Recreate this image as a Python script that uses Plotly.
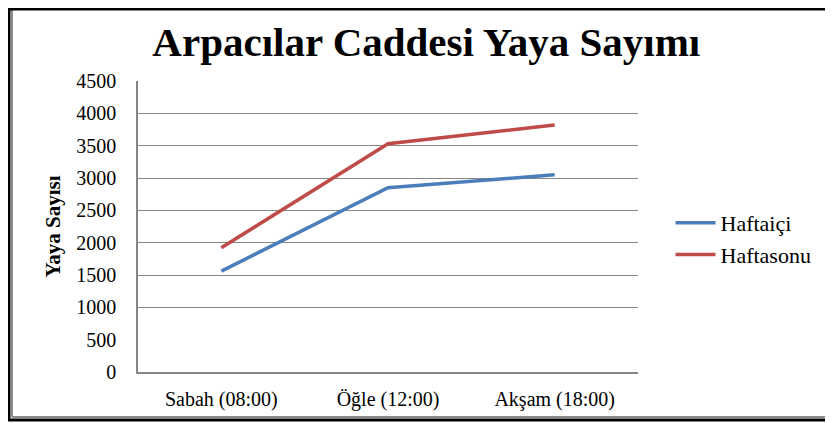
import plotly.graph_objects as go

# Data
zaman = ["Sabah (08:00)", "Öğle (12:00)", "Akşam (18:00)"]
haftaici = [1560, 2850, 3050]
haftasonu = [1920, 3530, 3820]

serif = "Liberation Serif, Times New Roman, serif"
grid_vals = [1000, 1500, 2000, 2500, 3000, 3500, 4000, 4500]

fig = go.Figure()

fig.add_trace(go.Scatter(
    x=zaman, y=haftaici, name="Haftaiçi", mode="lines",
    line=dict(color="#4A7EBB", width=3.5)
))
fig.add_trace(go.Scatter(
    x=zaman, y=haftasonu, name="Haftasonu", mode="lines",
    line=dict(color="#BE4B48", width=3.5)
))
# invisible trace so the second y axis (grid only) is drawn
fig.add_trace(go.Scatter(
    x=zaman, y=[None] * len(zaman), yaxis="y2",
    showlegend=False, hoverinfo="skip"
))

# outer frame of the picture
frame = dict(xref="paper", yref="paper", layer="above")
fig.add_shape(type="line", x0=-0.258, x1=-0.258, y0=-0.165, y1=1.26,
              line=dict(color="black", width=3), **frame)
fig.add_shape(type="line", x0=-0.252, x1=-0.252, y0=-0.155, y1=1.25,
              line=dict(color="#8c8c8c", width=2), **frame)
fig.add_shape(type="line", x0=-0.26, x1=1.4, y0=-0.165, y1=-0.165,
              line=dict(color="black", width=3), **frame)
fig.add_shape(type="line", x0=-0.252, x1=1.4, y0=-0.155, y1=-0.155,
              line=dict(color="#8c8c8c", width=2), **frame)
fig.add_shape(type="line", x0=-0.26, x1=1.4, y0=1.247, y1=1.247,
              line=dict(color="black", width=3), **frame)

fig.update_layout(
    width=825, height=415,
    margin=dict(l=130, r=195, t=73, b=51),
    paper_bgcolor="white", plot_bgcolor="white",
    font=dict(family=serif, color="black", size=17),
    title=dict(
        text="<b>Arpacılar Caddesi Yaya Sayımı</b>",
        x=0.507, xanchor="center", y=0.92, yanchor="middle",
        font=dict(family=serif, size=41, color="black")
    ),
    xaxis=dict(
        showgrid=False, showline=True, linecolor="#868686", linewidth=1.5,
        ticks="", ticklabelstandoff=8, range=[-0.5, 2.5],
        tickfont=dict(size=20)
    ),
    yaxis=dict(
        range=[0, 4500], dtick=500, showgrid=False,
        showline=True, linecolor="#868686", linewidth=1.5,
        ticks="", ticklabelstandoff=16, zeroline=False,
        tickfont=dict(size=20),
        title=dict(text="<b>Yaya Sayısı</b>", standoff=10,
                   font=dict(size=21))
    ),
    yaxis2=dict(
        overlaying="y", range=[0, 4500], tickvals=grid_vals,
        showticklabels=False, showgrid=True, gridcolor="#868686",
        gridwidth=1.2, zeroline=False, side="left"
    ),
    legend=dict(
        x=1.065, y=0.457, xanchor="left", yanchor="middle",
        font=dict(size=22), itemwidth=40, tracegroupgap=0,
        bgcolor="rgba(0,0,0,0)"
    ),
    showlegend=True
)

fig.write_html("out.html")
